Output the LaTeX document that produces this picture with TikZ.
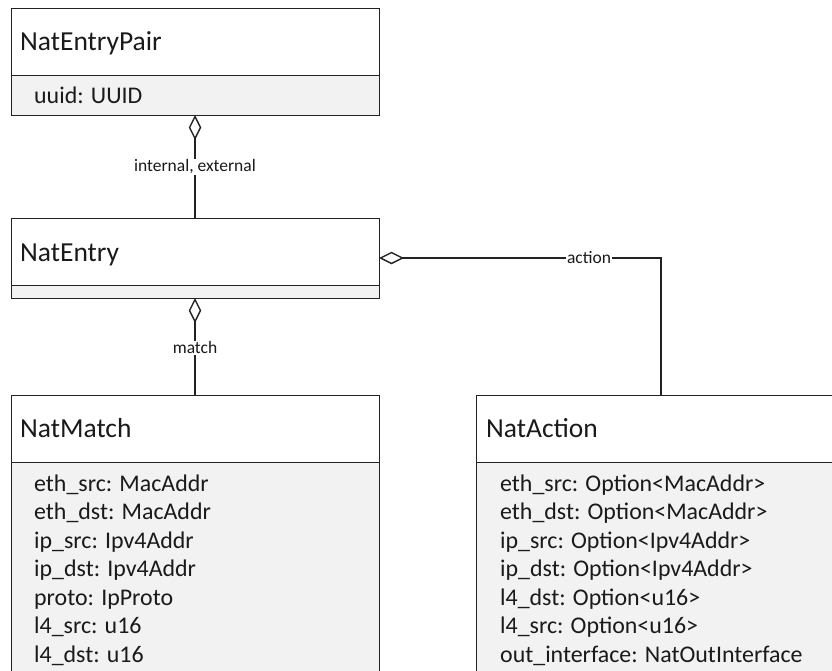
\documentclass[tikz,border=0pt]{standalone}
\usepackage{fontspec}
\setmainfont{Carlito}
\usetikzlibrary{arrows.meta,calc}
\definecolor{umlline}{HTML}{222222}
\definecolor{umltext}{HTML}{1A1A1A}
\definecolor{umlattr}{HTML}{F2F2F2}
\tikzset{
  classbox/.style={draw=umlline, line width=1.4pt, fill=umlattr, anchor=north west,
    inner sep=0pt, minimum width=#1},
  headbox/.style={draw=umlline, line width=1.4pt, fill=white, anchor=north west,
    inner sep=0pt, minimum width=#1},
  titletext/.style={anchor=base west, inner sep=0pt, text=umltext,
    font=\fontsize{27.5}{33}\selectfont},
  attrtext/.style={anchor=base west, inner sep=0pt, text=umltext,
    font=\fontsize{23.9}{28.5}\selectfont},
  assoc/.style={draw=umlline, line width=1.4pt,
    {Diamond[open, length=25pt, width=12.5pt, line width=1.4pt]}-},
  rolelabel/.style={fill=white, inner xsep=1pt, inner ysep=1pt, text=umltext,
    font=\fontsize{17.5}{21}\selectfont}
}
\begin{document}
\begin{tikzpicture}[x=1pt, y=-1pt]
\useasboundingbox (0,0) rectangle (832,670);
\clip (0,0) rectangle (832,670);

% NatEntryPair
\node[classbox=368pt, minimum height=107.5pt] (pair) at (11,7.5) {};
\node[headbox=368pt, minimum height=67.5pt] (pairH) at (pair.north west) {};
\node[titletext] (pairT) at (20,50) {NatEntryPair};
\node[attrtext] (pairA) at (34,103.3) {uuid: UUID};

% NatEntry
\node[classbox=368pt, minimum height=80pt] (entry) at (11,218) {};
\node[headbox=368pt, minimum height=67pt] (entryH) at (entry.north west) {};
\node[titletext] (entryT) at (20,261) {NatEntry};

% NatMatch
\node[classbox=368pt, minimum height=320pt] (match) at (11,395) {};
\node[headbox=368pt, minimum height=67pt] (matchH) at (match.north west) {};
\node[titletext] (matchT) at (20,437.5) {NatMatch};
\foreach \txt [count=\i from 0] in {eth\_src: MacAddr, eth\_dst: MacAddr,
    ip\_src: Ipv4Addr, ip\_dst: Ipv4Addr, proto: IpProto, l4\_src: u16, l4\_dst: u16}
  \node[attrtext] (matchA\i) at (34,491+28.5*\i) {\txt};

% NatAction
\node[classbox=420pt, minimum height=320pt] (action) at (476,395) {};
\node[headbox=420pt, minimum height=67pt] (actionH) at (action.north west) {};
\node[titletext] (actionT) at (486,437.5) {NatAction};
\foreach \txt [count=\i from 0] in {eth\_src: Option<MacAddr>, eth\_dst: Option<MacAddr>,
    ip\_src: Option<Ipv4Addr>, ip\_dst: Option<Ipv4Addr>, l4\_dst: Option<u16>,
    l4\_src: Option<u16>, out\_interface: NatOutInterface}
  \node[attrtext] (actionA\i) at (500,491+28.5*\i) {\txt};

% Associations
\coordinate (pairB) at (195,115);
\coordinate (entryTop) at (195,218);
\draw[assoc] (pairB) -- node[rolelabel, pos=0.505] (pairL) {internal, external} (entryTop);

\coordinate (entryB) at (195,298);
\coordinate (matchTop) at (195,395);
\draw[assoc] (entryB) -- node[rolelabel, pos=0.515] (matchL) {match} (matchTop);

\coordinate (entryR) at (379,258);
\coordinate (actionTop) at (661,395);
\coordinate (bend) at (actionTop |- entryR);
\draw[assoc] (entryR) -- (bend) -- (actionTop);
\node[rolelabel] (actionL) at (589,258) {action};
\end{tikzpicture}
\end{document}
